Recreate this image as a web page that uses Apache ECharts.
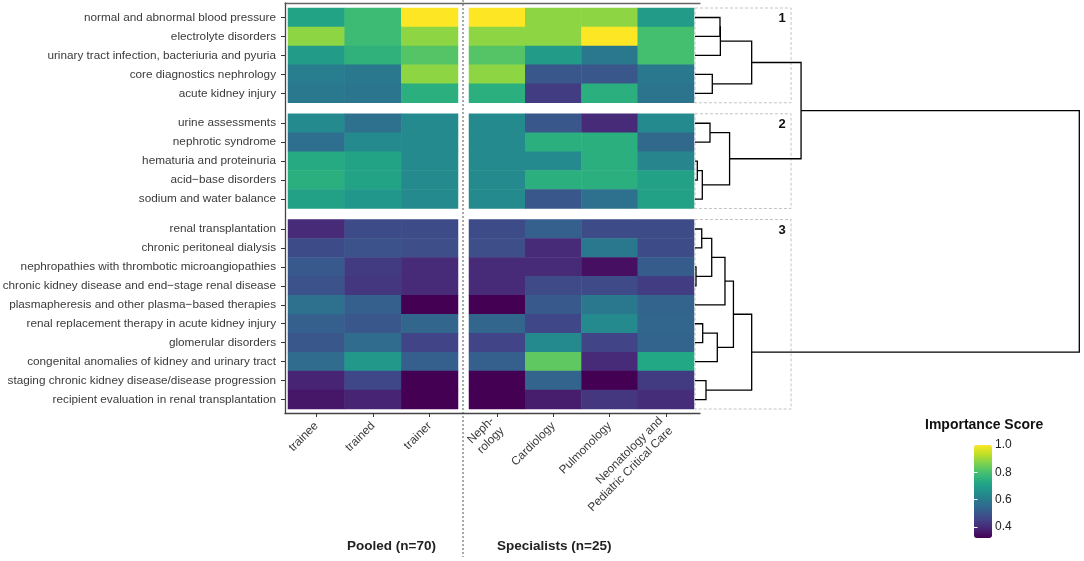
<!DOCTYPE html>
<html><head><meta charset="utf-8">
<script src="https://cdn.jsdelivr.net/npm/echarts@6/dist/echarts.min.js"></script>
<style>html,body{margin:0;padding:0;background:#fff}#c{width:1084px;height:561px}</style>
</head><body><div id="c"></div>
<script>
// ---------------- data ----------------
const rowLabels = [
  'normal and abnormal blood pressure','electrolyte disorders','urinary tract infection, bacteriuria and pyuria','core diagnostics nephrology','acute kidney injury',
  'urine assessments','nephrotic syndrome','hematuria and proteinuria','acid\u2212base disorders','sodium and water balance',
  'renal transplantation','chronic peritoneal dialysis','nephropathies with thrombotic microangiopathies','chronic kidney disease and end\u2212stage renal disease',
  'plasmapheresis and other plasma\u2212based therapies','renal replacement therapy in acute kidney injury','glomerular disorders',
  'congenital anomalies of kidney and urinary tract','staging chronic kidney disease/disease progression','recipient evaluation in renal transplantation'
];
const groupSizes = [5, 5, 10];
const clusterLabels = ['1', '2', '3'];
const pooledCols = ['trainee', 'trained', 'trainer'];
const specCols = ['Neph-\nrology', 'Cardiology', 'Pulmonology', 'Neonatology and\nPediatric Critical Care'];
const pooledTitle = 'Pooled (n=70)';
const specTitle = 'Specialists (n=25)';
const legendTitle = 'Importance Score';
const scoreTicks = [0.4, 0.6, 0.8, 1.0];
const scoreMin = 0.32, scoreMax = 1.0;

// rows: trainee, trained, trainer
const pooledValues = [
  [0.714, 0.782, 1.000],
  [0.884, 0.782, 0.884],
  [0.694, 0.755, 0.816],
  [0.606, 0.592, 0.884],
  [0.592, 0.585, 0.748],
  [0.640, 0.572, 0.640],
  [0.565, 0.640, 0.640],
  [0.735, 0.714, 0.640],
  [0.748, 0.714, 0.640],
  [0.708, 0.674, 0.640],
  [0.402, 0.476, 0.476],
  [0.476, 0.490, 0.480],
  [0.510, 0.436, 0.402],
  [0.490, 0.429, 0.402],
  [0.572, 0.524, 0.320],
  [0.524, 0.504, 0.544],
  [0.504, 0.558, 0.456],
  [0.558, 0.680, 0.524],
  [0.388, 0.463, 0.320],
  [0.361, 0.388, 0.320]
];
// rows: Nephrology, Cardiology, Pulmonology, Neonatology/PCC
const specValues = [
  [1.000, 0.884, 0.884, 0.694],
  [0.884, 0.884, 1.000, 0.796],
  [0.816, 0.694, 0.592, 0.796],
  [0.884, 0.504, 0.504, 0.592],
  [0.748, 0.442, 0.748, 0.578],
  [0.640, 0.504, 0.402, 0.640],
  [0.640, 0.748, 0.748, 0.551],
  [0.640, 0.640, 0.748, 0.626],
  [0.640, 0.748, 0.748, 0.708],
  [0.640, 0.504, 0.572, 0.708],
  [0.476, 0.524, 0.476, 0.476],
  [0.480, 0.402, 0.592, 0.476],
  [0.402, 0.402, 0.347, 0.517],
  [0.402, 0.470, 0.470, 0.442],
  [0.320, 0.510, 0.592, 0.538],
  [0.544, 0.463, 0.640, 0.544],
  [0.456, 0.640, 0.456, 0.538],
  [0.524, 0.830, 0.402, 0.728],
  [0.320, 0.538, 0.320, 0.436],
  [0.320, 0.374, 0.429, 0.408]
];
// hierarchical clustering merges (hclust style): negative = leaf row (1-based), positive = earlier merge
const merges = [
  [-1, -2, 6.5], [1, -3, 6.6], [-4, -5, 4.5], [2, 3, 14.75],
  [-6, -7, 3.9], [-8, -9, 0.6], [6, -10, 1.9], [5, 7, 9.0], [4, 8, 27.6],
  [-11, -12, 1.75], [-13, -14, 0.26], [10, 11, 4.35], [12, -15, 7.8],
  [-16, -17, 2.0], [14, -18, 5.8], [13, 15, 10.0], [-19, -20, 2.86], [16, 17, 14.75],
  [9, 18, 100]
];
const cutHeight = 25;
const rootHeight = 100;

// ---------------- layout ----------------
const FONT = "'Liberation Sans', Arial, sans-serif";
const HM_TOP = 8, ROW_H = 18.95, GAP_H = 11;
const POOL_L = 288, POOL_W = 170, SPEC_L = 469, SPEC_W = 225;
const DEN_L = 695, DEN_W = 384.3;
const viridis = ['#440154','#482475','#414487','#355f8d','#2a788e','#21918c','#22a884','#44bf70','#7ad151','#bddf26','#fde725'];

const groupStart = [];
let acc = 0;
groupSizes.forEach(n => { groupStart.push(acc); acc += n; });
const groupTopPx = groupSizes.map((n, g) => HM_TOP + groupStart[g] * ROW_H + g * GAP_H);
const totalPx = groupSizes.reduce((a, b) => a + b, 0) * ROW_H + (groupSizes.length - 1) * GAP_H;

const grids = [], xAxes = [], yAxes = [], series = [];
const labelColor = '#3a3a3a';
const mkGrid = o => Object.assign({ outerBoundsMode: 'none', containLabel: false }, o);

groupSizes.forEach((n, g) => {
  const top = groupTopPx[g], h = n * ROW_H;
  const labels = rowLabels.slice(groupStart[g], groupStart[g] + n);
  const isLast = g === groupSizes.length - 1;
  [[POOL_L, POOL_W, pooledCols, pooledValues, true], [SPEC_L, SPEC_W, specCols, specValues, false]].forEach(([left, w, cols, vals, isPool]) => {
    const gi = grids.length;
    grids.push(mkGrid({ left: left, top: top, width: w, height: h }));
    xAxes.push({
      type: 'category', gridIndex: gi, data: cols, position: 'bottom', show: isLast, offset: 4,
      axisLine: { show: false },
      axisTick: { show: true, alignWithLabel: true, length: 4, lineStyle: { color: '#333', width: 1 } },
      axisLabel: { rotate: 45, margin: 11, fontSize: 11.8, color: labelColor, fontFamily: FONT, lineHeight: 14, interval: 0 },
      splitLine: { show: false }
    });
    yAxes.push({
      type: 'category', gridIndex: gi, data: labels, inverse: true, position: 'left', show: isPool, offset: 3,
      axisLine: { show: false },
      axisTick: { show: true, alignWithLabel: true, length: 4, lineStyle: { color: '#333', width: 1 } },
      axisLabel: { margin: 9, fontSize: 11.75, color: labelColor, fontFamily: FONT, interval: 0 },
      splitLine: { show: false }
    });
    const data = [];
    for (let r = 0; r < n; r++) {
      vals[groupStart[g] + r].forEach((v, c) => data.push([c, r, v]));
    }
    series.push({
      type: 'heatmap', xAxisIndex: gi, yAxisIndex: gi, data: data,
      itemStyle: { borderWidth: 0 }, emphasis: { disabled: true }, silent: true
    });
  });
});

// dendrogram
const leafY = i => { // i: 0-based row
  let g = 0;
  while (g < groupSizes.length - 1 && i >= groupStart[g + 1]) g++;
  return (groupTopPx[g] - HM_TOP) + (i - groupStart[g] + 0.5) * ROW_H;
};
const nodes = {};
const getNode = k => k < 0 ? { h: 0, y: leafY(-k - 1) } : nodes[k];
const segs = [];
merges.forEach((m, k) => {
  const a = getNode(m[0]), b = getNode(m[1]);
  segs.push([a.h, a.y, m[2], b.y, b.h]);
  nodes[k + 1] = { h: m[2], y: (a.y + b.y) / 2 };
});
const boxes = groupSizes.map((n, g) => [0, groupTopPx[g] - HM_TOP, cutHeight, groupTopPx[g] - HM_TOP + n * ROW_H]);

const dgi = grids.length;
grids.push(mkGrid({ left: DEN_L, top: HM_TOP, width: DEN_W, height: totalPx }));
xAxes.push({ type: 'value', gridIndex: dgi, min: 0, max: rootHeight, show: false });
yAxes.push({ type: 'value', gridIndex: dgi, min: 0, max: totalPx, inverse: true, show: false });
series.push({
  type: 'custom', xAxisIndex: dgi, yAxisIndex: dgi, data: boxes, silent: true, z: 1, clip: false,
  encode: { x: [0, 2], y: [1, 3] },
  renderItem: (params, api) => {
    const tl = api.coord([api.value(0), api.value(1)]);
    const br = api.coord([api.value(2), api.value(3)]);
    return { type: 'group', children: [
      { type: 'rect', shape: { x: tl[0], y: tl[1], width: br[0] - tl[0], height: br[1] - tl[1] },
        style: { fill: null, stroke: '#c4c4c4', lineWidth: 1, lineDash: [3, 2] } },
      { type: 'text', x: br[0] - 9, y: tl[1] + 4,
        style: { text: clusterLabels[params.dataIndex], fontSize: 13, fontWeight: 'bold', fontFamily: FONT, fill: '#111', align: 'center', verticalAlign: 'top' } }
    ]};
  }
});
series.push({
  type: 'custom', xAxisIndex: dgi, yAxisIndex: dgi, data: segs, silent: true, z: 3, clip: false,
  encode: { x: [0, 2, 4], y: [1, 3] },
  renderItem: (params, api) => {
    const p0 = api.coord([api.value(0), api.value(1)]);
    const p1 = api.coord([api.value(2), api.value(1)]);
    const p2 = api.coord([api.value(2), api.value(3)]);
    const p3 = api.coord([api.value(4), api.value(3)]);
    return { type: 'polyline', shape: { points: [p0, p1, p2, p3] }, style: { stroke: '#000', lineWidth: 1.3, fill: null } };
  }
});

// frame around heatmap panel
const fgi = grids.length;
grids.push(mkGrid({ left: 285, top: 3, width: 415, height: 410.5 }));
const frameLine = { show: true, lineStyle: { color: '#444', width: 1.3 } };
xAxes.push({ type: 'value', gridIndex: fgi, min: 0, max: 1, position: 'bottom', axisLine: frameLine, axisTick: { show: false }, axisLabel: { show: false }, splitLine: { show: false } });
xAxes.push({ type: 'value', gridIndex: fgi, min: 0, max: 1, position: 'top', axisLine: { show: true, lineStyle: { color: '#666', width: 1.3 } }, axisTick: { show: false }, axisLabel: { show: false }, splitLine: { show: false } });
yAxes.push({ type: 'value', gridIndex: fgi, min: 0, max: 1, position: 'left', axisLine: frameLine, axisTick: { show: false }, axisLabel: { show: false }, splitLine: { show: false } });

// colour bar axis
const cgi = grids.length;
grids.push(mkGrid({ left: 974, top: 445, width: 18, height: 93 }));
xAxes.push({ type: 'value', gridIndex: cgi, min: 0, max: 1, show: false });
yAxes.push({ type: 'value', gridIndex: cgi, min: scoreMin, max: scoreMax, position: 'right', z: 20,
  axisLine: { show: false }, splitLine: { show: false },
  axisTick: { show: true, inside: true, length: 3.5, customValues: scoreTicks.slice(0, 3), lineStyle: { color: '#fff', width: 1 } },
  axisLabel: { show: true, margin: 3, customValues: scoreTicks, formatter: v => v.toFixed(1), fontSize: 12, color: '#222', fontFamily: FONT }
});
yAxes.push({ type: 'value', gridIndex: cgi, min: scoreMin, max: scoreMax, position: 'left', z: 20,
  axisLine: { show: false }, splitLine: { show: false }, axisLabel: { show: false },
  axisTick: { show: true, inside: true, length: 3.5, customValues: scoreTicks.slice(0, 3), lineStyle: { color: '#fff', width: 1 } }
});

const option = {
  backgroundColor: '#fff',
  animation: false,
  textStyle: { fontFamily: FONT },
  title: [
    { text: legendTitle, left: 925, top: 418, padding: 0, textStyle: { fontSize: 14, fontWeight: 'bold', color: '#111', fontFamily: FONT } },
    { text: pooledTitle, left: 347, top: 539, padding: 0, textStyle: { fontSize: 13.5, fontWeight: 'bold', color: '#222', fontFamily: FONT } },
    { text: specTitle, left: 497, top: 539, padding: 0, textStyle: { fontSize: 13.5, fontWeight: 'bold', color: '#222', fontFamily: FONT } }
  ],
  grid: grids,
  xAxis: xAxes,
  yAxis: yAxes,
  visualMap: {
    type: 'continuous', min: scoreMin, max: scoreMax, seriesIndex: [0, 1, 2, 3, 4, 5],
    left: 974, top: 445, itemWidth: 18, itemHeight: 93, padding: 0,
    calculable: false, text: ['', ''], textStyle: { color: 'rgba(0,0,0,0)' }, showLabel: false,
    inRange: { color: viridis }, hoverLink: false
  },
  graphic: [
    { type: 'line', shape: { x1: 463, y1: 0, x2: 463, y2: 557 }, style: { stroke: '#555', lineWidth: 1, lineDash: [2, 2] }, silent: true }
  ],
  series: series
};
const chart = echarts.init(document.getElementById('c'), null, { renderer: 'canvas' });
chart.setOption(option);
</script>
</body></html>
